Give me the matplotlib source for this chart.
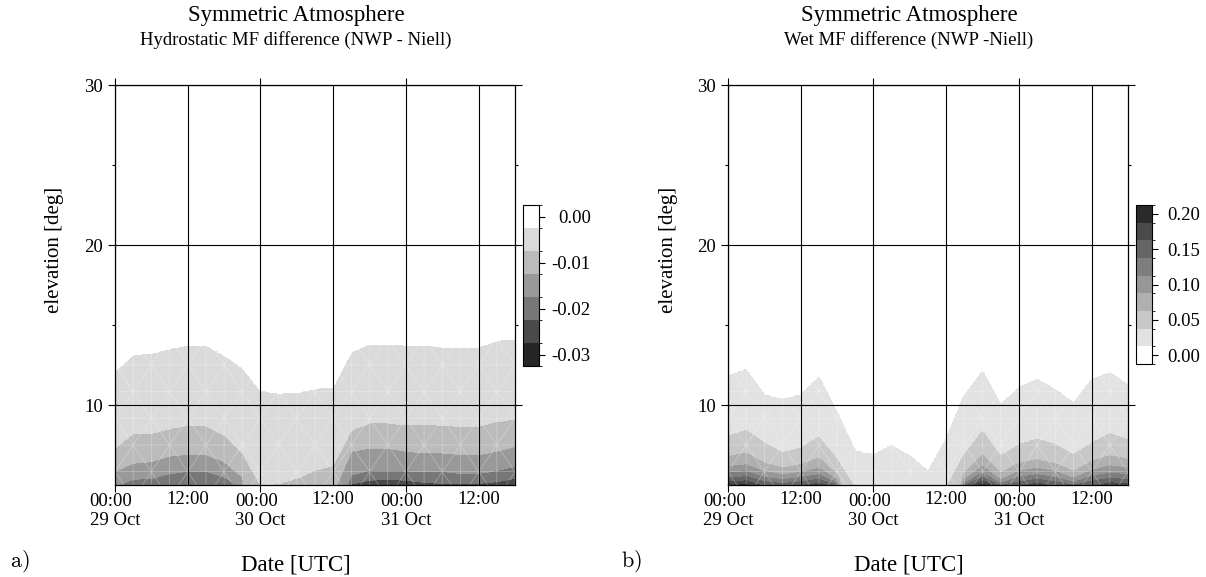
import numpy as np
import matplotlib
matplotlib.use('Agg')
import matplotlib.pyplot as plt
import matplotlib.tri as mtri
from matplotlib.colors import ListedColormap, BoundaryNorm

plt.rcParams['font.family'] = ['Liberation Serif', 'DejaVu Serif']
plt.rcParams['mathtext.fontset'] = 'cm'
plt.rcParams['axes.unicode_minus'] = False

nan = np.nan

# epochs, hours after 29 Oct 00:00 UTC (3-hourly NWP fields)
hours = [0, 3, 6, 9, 12, 15, 18, 21, 24, 27, 30, 33, 36, 39, 42, 45, 48, 51, 54, 57, 60, 63, 66]
day_ticks = [0, 24, 48]
day_labels = ['00:00\n29 Oct', '00:00\n30 Oct', '00:00\n31 Oct']
noon_ticks = [12, 36, 60]
noon_labels = ['12:00', '12:00', '12:00']

# hydrostatic MF difference: value at 5 deg and elevation where each level is crossed
# (nan = level not reached above 5 deg)
hyd_levels = [-0.0325, -0.0275, -0.0225, -0.0175, -0.0125, -0.0075, -0.0025, 0.0025]
hyd_at5 = [-0.017, -0.020, -0.020, -0.021, -0.0215, -0.0215, -0.021, -0.016, -0.0075, -0.008,
           -0.009, -0.0105, -0.011, -0.023, -0.025, -0.025, -0.025, -0.024, -0.0235, -0.0235,
           -0.0235, -0.0245, -0.026]
hyd_c1 = [12.1, 13.1, 13.2, 13.5, 13.7, 13.7, 13.1, 12.3, 10.9, 10.7, 10.75, 11.0, 11.1,
          13.3, 13.8, 13.8, 13.7, 13.7, 13.6, 13.6, 13.6, 14.0, 14.1]
hyd_c2 = [7.3, 8.2, 8.2, 8.5, 8.7, 8.7, 8.1, 7.0, nan, 5.05, 5.4, 5.9, 6.2,
          8.4, 8.85, 8.85, 8.75, 8.8, 8.7, 8.65, 8.65, 8.95, 9.1]
hyd_c3 = [5.85, 6.35, 6.45, 6.8, 6.9, 6.9, 6.45, 5.5, nan, nan, nan, nan, nan,
          7.1, 7.3, 7.3, 7.1, 7.0, 7.0, 6.9, 6.9, 7.1, 7.4]
hyd_c4 = [nan, 5.35, 5.4, 5.7, 5.85, 5.85, 5.5, nan, nan, nan, nan, nan, nan,
          5.6, 5.9, 5.9, 5.85, 5.85, 5.85, 5.7, 5.7, 5.9, 6.15]
hyd_c5 = [nan, nan, nan, nan, nan, nan, nan, nan, nan, nan, nan, nan, nan,
          5.05, 5.3, 5.35, 5.3, 5.15, 5.1, 5.1, 5.1, 5.2, 5.4]
hyd_colors = ['#262626', '#4a4a4a', '#777777', '#999999', '#bbbbbb', '#dadada', 'white']
hyd_cbticks = [0.0, -0.01, -0.02, -0.03]

# wet MF difference
wet_levels = [-0.0125, 0.0125, 0.0375, 0.0625, 0.0875, 0.1125, 0.1375, 0.1625, 0.1875, 0.2125]
wet_at5 = [0.18, 0.19, 0.155, 0.145, 0.155, 0.17, 0.13, 0.035, 0.03, 0.032, 0.03, 0.025, 0.036,
           0.13, 0.19, 0.13, 0.155, 0.17, 0.155, 0.135, 0.155, 0.17, 0.168]
wet_c1 = [11.77, 12.19, 10.6, 10.31, 10.6, 11.71, 9.5, 7.08, 6.87, 7.44, 6.77, 5.83, 7.81,
          10.6, 12.08, 10.0, 11.04, 11.56, 10.94, 10.1, 11.56, 11.98, 11.25]
wet_c2 = [8.02, 8.4, 7.6, 6.98, 7.29, 7.98, 6.56, nan, nan, nan, nan, nan, nan,
          6.87, 8.33, 6.77, 7.5, 7.85, 7.5, 6.87, 7.6, 8.19, 7.81]
wet_c3 = [6.77, 6.98, 6.35, 6.04, 6.25, 6.67, 5.63, nan, nan, nan, nan, nan, nan,
          5.73, 6.87, 5.73, 6.35, 6.56, 6.31, 5.83, 6.46, 6.81, 6.6]
wet_c4 = [6.15, 6.25, 5.83, 5.63, 5.77, 6.04, 5.31, nan, nan, nan, nan, nan, nan,
          5.31, 6.15, 5.31, 5.83, 6.04, 5.83, 5.42, 5.9, 6.19, 6.04]
wet_c5 = [5.73, 5.83, 5.48, 5.31, 5.48, 5.63, 5.1, nan, nan, nan, nan, nan, nan,
          5.1, 5.73, 5.1, 5.48, 5.63, 5.48, 5.15, 5.54, 5.73, 5.63]
wet_c6 = [5.42, 5.52, 5.2, 5.1, 5.2, 5.35, nan, nan, nan, nan, nan, nan, nan,
          nan, 5.48, nan, 5.2, 5.35, 5.2, nan, 5.25, 5.4, 5.35]
wet_c7 = [5.2, 5.25, nan, nan, nan, 5.1, nan, nan, nan, nan, nan, nan, nan,
          nan, 5.25, nan, nan, 5.12, nan, nan, nan, 5.15, 5.1]
wet_c8 = [nan, 5.05, nan, nan, nan, nan, nan, nan, nan, nan, nan, nan, nan,
          nan, 5.05, nan, nan, nan, nan, nan, nan, nan, nan]
wet_colors = ['white', '#e2e2e2', '#c8c8c8', '#b0b0b0', '#979797', '#7e7e7e',
              '#656565', '#4a4a4a', '#2a2a2a']
wet_cbticks = [0.0, 0.05, 0.10, 0.15, 0.20]

elev = np.linspace(5, 30, 251)
tfine = np.linspace(0, 66, 331)
none_row = [nan] * len(hours)


def crossing_table(at5, crossings, bounds):
    # levels not reached above 5 deg get a crossing below the axis, continued
    # from the 5 deg value through the lowest crossing that is seen
    tab = np.array(crossings, dtype=float)
    for i in range(tab.shape[1]):
        j = np.where(~np.isnan(tab[:, i]))[0][0]
        slope = (bounds[j] - at5[i]) / (tab[j, i] - 5.0)
        for k in range(j):
            tab[k, i] = 5.0 + (bounds[k] - at5[i]) / slope
    return tab


def mf_field(at5, crossings, bounds):
    tab = crossing_table(at5, crossings, bounds)
    # crossing heights move linearly between epochs
    cross = np.array([np.interp(tfine, hours, row) for row in tab])
    cols = [np.interp(elev, list(cross[:, m]) + [30.0], list(bounds) + [0.0])
            for m in range(len(tfine))]
    return np.array(cols).T


hyd = mf_field(hyd_at5, [none_row, none_row, hyd_c5, hyd_c4, hyd_c3, hyd_c2, hyd_c1],
               hyd_levels[0:7])
wet = mf_field(wet_at5, [none_row, wet_c8, wet_c7, wet_c6, wet_c5, wet_c4, wet_c3, wet_c2, wet_c1],
               wet_levels[9:0:-1])

# triangle mesh of the gridded field (seams show through the fill)
mesh_e = np.arange(17) * 5 / 3 + 25 / 6
tt, ee = np.meshgrid(hours, mesh_e)
nx, ny = len(hours), len(mesh_e)
tris = []
for j in range(ny - 1):
    for i in range(nx - 1):
        a = j * nx + i
        b, c, d = a + 1, a + nx, a + nx + 1
        if (i + j) % 2:
            tris += [[a, b, d], [a, d, c]]
        else:
            tris += [[a, b, c], [b, d, c]]
mesh = mtri.Triangulation(tt.ravel(), ee.ravel(), tris)

W, H = 1206, 577
fig = plt.figure(figsize=(W / 100, H / 100), dpi=100)


def fx(px):
    return px / W


def fy(py):
    return 1 - py / H


panels = [
    dict(x0=115, field=hyd, levels=hyd_levels, colors=hyd_colors, ticks=hyd_cbticks,
         cbx=523, cbtop=205, cbbot=366, cbpad=33, sub='Hydrostatic MF difference (NWP - Niell)',
         tag='a)', tagx=10),
    dict(x0=728, field=wet, levels=wet_levels, colors=wet_colors, ticks=wet_cbticks,
         cbx=1136, cbtop=205, cbbot=364, cbpad=30, sub='Wet MF difference (NWP -Niell)',
         tag='b)', tagx=621),
]

for p in panels:
    ax = fig.add_axes([fx(p['x0']), fy(485), 400 / W, 400 / H])
    cmap = ListedColormap(p['colors'])
    norm = BoundaryNorm(p['levels'], cmap.N)
    cs = ax.contourf(tfine, elev, p['field'], levels=p['levels'], cmap=cmap, norm=norm,
                     antialiased=False)
    ax.triplot(mesh, color='white', lw=0.5, alpha=0.35, zorder=1.2)

    ax.set_xlim(0, 66)
    ax.set_ylim(5, 30)
    ax.set_xticks(day_ticks)
    ax.set_xticklabels(day_labels)
    ax.set_xticks(noon_ticks, minor=True)
    ax.set_xticklabels(noon_labels, minor=True)
    for lbl in ax.get_xticklabels():
        lbl.set_multialignment('left')
    ax.set_yticks([10, 20, 30])
    ax.set_yticks([15, 25], minor=True)

    ax.tick_params(axis='x', which='major', direction='out', length=5, width=0.8,
                   top=True, labelsize=13.5, pad=0.5)
    ax.tick_params(axis='x', which='minor', direction='out', length=0, width=0.8,
                   labelsize=13.5, pad=4.1)
    ax.tick_params(axis='y', which='major', direction='out', length=5, width=0.8,
                   left=True, right=True, labelsize=13.5, pad=3.5)
    ax.tick_params(axis='y', which='minor', direction='out', length=2.2, width=0.8,
                   left=True, right=True)
    ax.grid(True, axis='x', which='both', color='black', lw=0.8)
    ax.grid(True, axis='y', which='major', color='black', lw=0.8)
    for s in ax.spines.values():
        s.set_linewidth(0.9)

    cax = fig.add_axes([fx(p['cbx']), fy(p['cbbot']), 16 / W, (p['cbbot'] - p['cbtop']) / H])
    cb = fig.colorbar(cs, cax=cax, ticks=p['ticks'])
    cb.outline.set_linewidth(0.8)
    cax.set_yticklabels(['%.2f' % v for v in p['ticks']])
    cax.tick_params(direction='out', length=4.3, width=0.8, labelsize=13.5, pad=p['cbpad'])
    for lbl in cax.get_yticklabels():
        lbl.set_ha('right')

    cx = p['x0'] + 181
    fig.text(fx(cx), fy(15), 'Symmetric Atmosphere', ha='center', va='center', fontsize=16.5)
    fig.text(fx(cx), fy(40), p['sub'], ha='center', va='center', fontsize=13.5)
    fig.text(fx(cx), fy(565), 'Date [UTC]', ha='center', va='center', fontsize=16.5)
    fig.text(fx(p['x0'] - 60), fy(250), 'elevation [deg]', ha='center', va='center',
             rotation=90, fontsize=15)
    fig.text(fx(p['tagx']), fy(561), r'$\mathrm{' + p['tag'] + '}$', ha='left',
             va='center', fontsize=16)

fig.savefig('out.png', dpi=100)
